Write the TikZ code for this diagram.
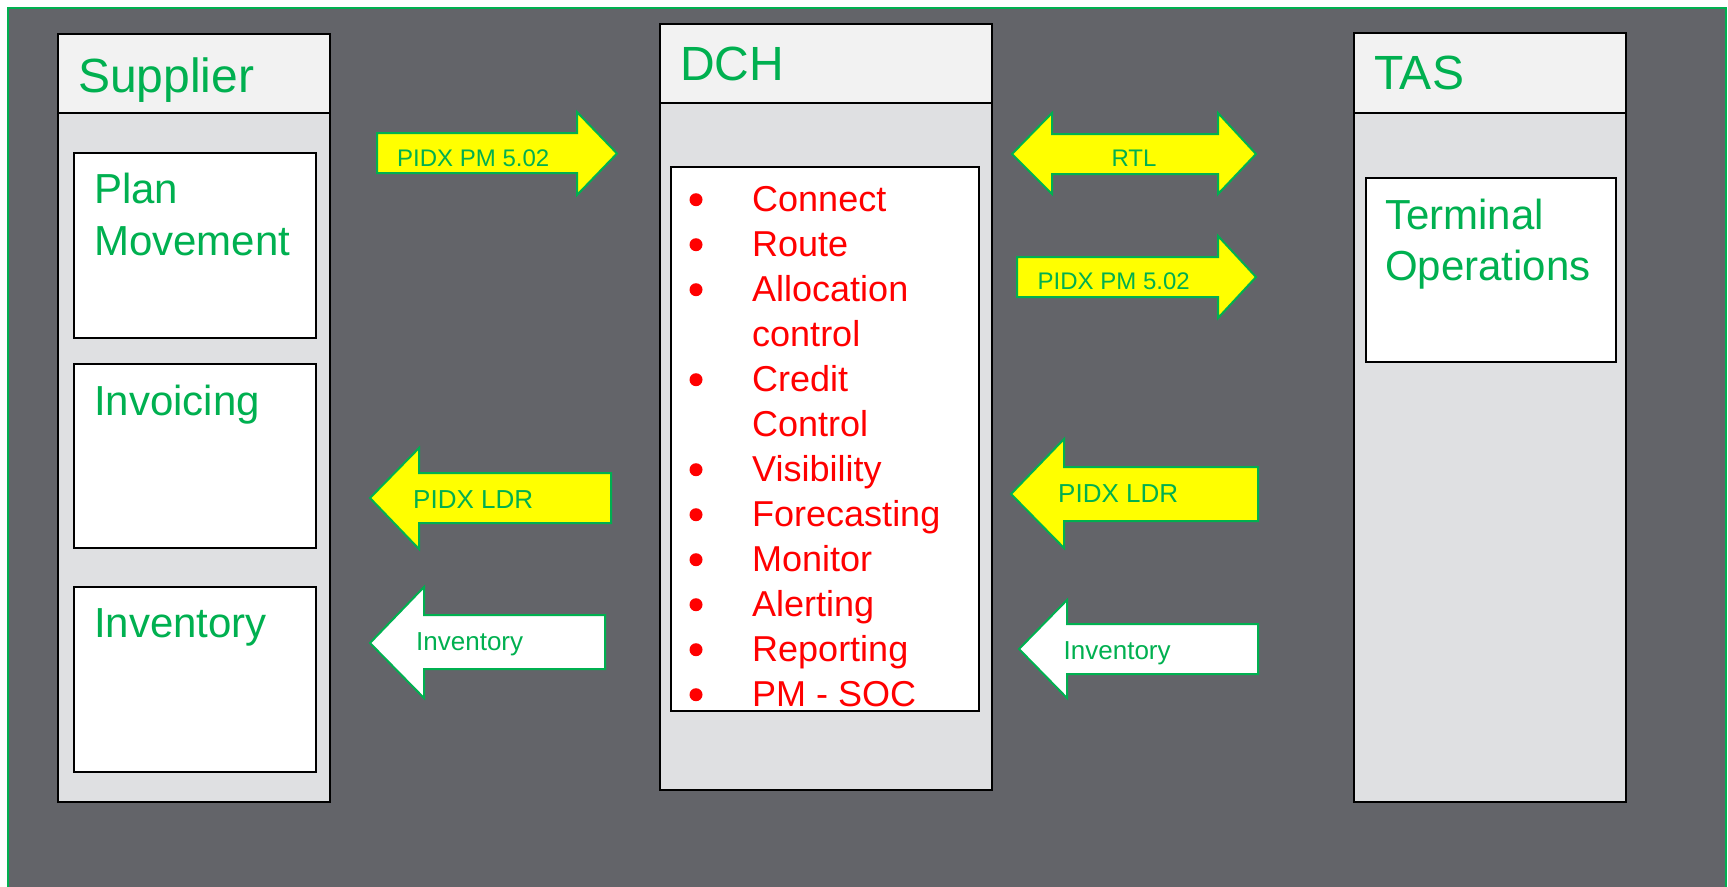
\documentclass[tikz,border=0pt]{standalone}
\usepackage{fontspec}
\setmainfont{Liberation Sans}
\definecolor{bg}{HTML}{636469}
\definecolor{hdr}{HTML}{F2F2F2}
\definecolor{bodyg}{HTML}{DFE0E2}
\definecolor{tgreen}{HTML}{00B050}
\definecolor{tred}{HTML}{FF0000}
\definecolor{ayellow}{HTML}{FFFF00}
\tikzset{
  box/.style={draw=black, line width=2pt, outer sep=0pt, inner sep=0pt, anchor=north west},
  panel/.style={box, fill=bodyg},
  header/.style={box, fill=hdr},
  inner/.style={box, fill=white},
  htext/.style={anchor=base west, text=tgreen, inner sep=0pt, font=\fontsize{48}{58}\selectfont},
  btext/.style={anchor=base west, text=tgreen, inner sep=0pt, font=\fontsize{42}{52}\selectfont},
  ltext/.style={anchor=base west, text=tred, inner sep=0pt, font=\fontsize{36}{45}\selectfont},
  bul/.style={circle, fill=tred, minimum size=13pt, inner sep=0pt},
  arrshape/.style={draw=tgreen, line width=2pt, line join=miter},
  yarrow/.style={arrshape, fill=ayellow},
  warrow/.style={arrshape, fill=white},
  atext/.style={anchor=base west, text=tgreen, inner sep=0pt},
  asmall/.style={atext, font=\fontsize{24}{28}\selectfont},
  abig/.style={atext, font=\fontsize{26}{30}\selectfont},
}
\begin{document}
\begin{tikzpicture}[x=1pt, y=-1pt]
\useasboundingbox (0,0) rectangle (1728,886);
\clip (0,0) rectangle (1728,886);
\fill[white] (0,0) rectangle (1728,886);
\draw[draw=tgreen, line width=2pt, fill=bg] (8,8) rectangle (1726,900);

% Supplier column
\node[panel, minimum width=272pt, minimum height=689pt] (supbody) at (58,113) {};
\node[header, minimum width=272pt, minimum height=79pt] (suphead) at (58,34) {};
\node[htext] (suptxt) at (78,92) {Supplier};
\node[inner, minimum width=242pt, minimum height=185pt] (plan) at (74,153) {};
\node[btext] (plan1) at (94,203) {Plan};
\node[btext] (plan2) at (94,255) {Movement};
\node[inner, minimum width=242pt, minimum height=184pt] (invc) at (74,364) {};
\node[btext] (invctxt) at (94,415) {Invoicing};
\node[inner, minimum width=242pt, minimum height=185pt] (invt) at (74,587) {};
\node[btext] (invttxt) at (94,637) {Inventory};

% DCH column
\node[panel, minimum width=332pt, minimum height=687pt] (dchbody) at (660,103) {};
\node[header, minimum width=332pt, minimum height=79pt] (dchhead) at (660,24) {};
\node[htext] (dchtxt) at (680,80) {DCH};
\node[inner, minimum width=308pt, minimum height=544pt] (list) at (671,167) {};
\foreach \t [count=\i from 0] in {Connect,Route,Allocation,control,Credit,Control,Visibility,Forecasting,Monitor,Alerting,Reporting,PM - SOC}{
  \node[ltext] (li\i) at (752,{211.7+45*\i}) {\t};
}
\foreach \i in {0,1,2,4,6,7,8,9,10,11}{
  \node[bul] (b\i) at (696,{199.7+45*\i}) {};
}

% TAS column
\node[panel, minimum width=272pt, minimum height=689pt] (tasbody) at (1354,113) {};
\node[header, minimum width=272pt, minimum height=80pt] (tashead) at (1354,33) {};
\node[htext] (tastxt) at (1374,89) {TAS};
\node[inner, minimum width=250pt, minimum height=184pt] (term) at (1366,178) {};
\node[btext] (term1) at (1385,229) {Terminal};
\node[btext] (term2) at (1385,280) {Operations};

% Arrows between Supplier and DCH
\filldraw[yarrow] (377,133) -- (577,133) -- (577,112) -- (617,153.5) -- (577,195) -- (577,173) -- (377,173) -- cycle;
\node[asmall] (a1) at (397,166) {PIDX PM 5.02};
\filldraw[yarrow] (370,498) -- (419,448) -- (419,473) -- (611,473) -- (611,523) -- (419,523) -- (419,549) -- cycle;
\node[abig] (a4) at (413,508) {PIDX LDR};
\filldraw[warrow] (370,643) -- (424,587) -- (424,615) -- (605,615) -- (605,669) -- (424,669) -- (424,698) -- cycle;
\node[abig] (a5) at (416,650) {Inventory};

% Arrows between DCH and TAS
\filldraw[yarrow] (1012,154) -- (1052,113) -- (1052,134) -- (1218,134) -- (1218,113) -- (1256,154) -- (1218,194) -- (1218,174) -- (1052,174) -- (1052,194) -- cycle;
\node[asmall, anchor=base] (a2) at (1134,166.7) {RTL};
\filldraw[yarrow] (1017,257) -- (1218,257) -- (1218,236) -- (1256,277) -- (1218,318) -- (1218,297) -- (1017,297) -- cycle;
\node[asmall] (a3) at (1037.5,289) {PIDX PM 5.02};
\filldraw[yarrow] (1011,494) -- (1064,439) -- (1064,467) -- (1258,467) -- (1258,521) -- (1064,521) -- (1064,548) -- cycle;
\node[abig] (a6) at (1058,502) {PIDX LDR};
\filldraw[warrow] (1019,649) -- (1067,600) -- (1067,624) -- (1258,624) -- (1258,674) -- (1067,674) -- (1067,698) -- cycle;
\node[abig] (a7) at (1063.5,659) {Inventory};
\end{tikzpicture}
\end{document}
